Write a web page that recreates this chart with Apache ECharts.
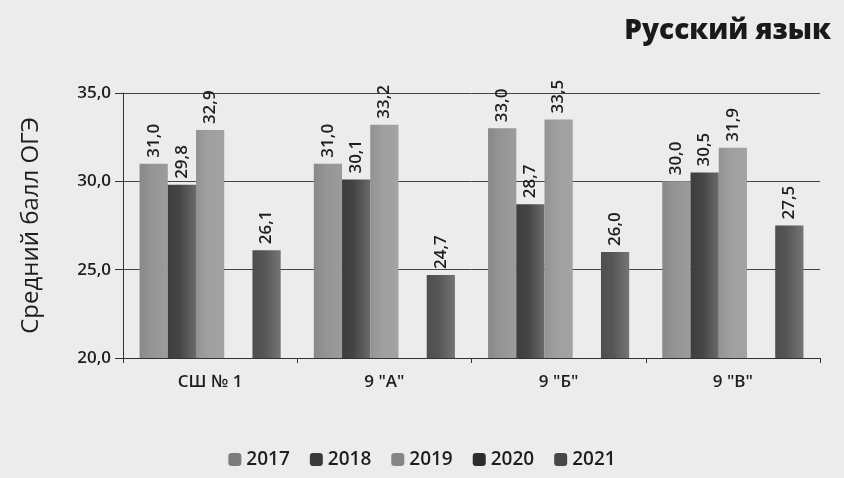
<!DOCTYPE html>
<html><head><meta charset="utf-8">
<script src="https://cdn.jsdelivr.net/npm/echarts@6/dist/echarts.min.js"></script>
<style>html,body{margin:0;padding:0;background:#ececec}#c{width:844px;height:478px}</style>
</head><body><div id="c"></div>
<script>
const categories = ['СШ № 1', '9 "А"', '9 "Б"', '9 "В"'];
const years = ['2017', '2018', '2019', '2020', '2021'];
const s2017 = [31.0, 31.0, 33.0, 30.0];
const s2018 = [29.8, 30.1, 28.7, 30.5];
const s2019 = [32.9, 33.2, 33.5, 31.9];
const s2020 = [null, null, null, null];
const s2021 = [26.1, 24.7, 26.0, 27.5];
const yTicks = [20, 25, 30, 35];

const seriesData = [s2017, s2018, s2019, s2020, s2021];
const baseColors = ['#7c7c7c', '#393939', '#858585', '#2c2c2c', '#474747'];
function grad(c) {
  return new echarts.graphic.LinearGradient(0, 0, 1, 0, [
    {offset: 0, color: echarts.color.lift(c, -0.1)}, {offset: 0.4, color: echarts.color.lift(c, -0.2)}, {offset: 1, color: echarts.color.lift(c, 0.25)}
  ]);
}
const chart = echarts.init(document.getElementById('c'));
chart.setOption({
  backgroundColor: '#ececec',
  animation: false,
  title: {text: 'Русский язык', right: 8, top: 12, textStyle: {fontFamily: 'Open Sans', fontSize: 28, fontWeight: 800, color: '#1a1a1a'}},
  legend: {bottom: 4, left: 'center', itemWidth: 13, itemHeight: 13, itemGap: 20,
    textStyle: {fontFamily: 'Open Sans', fontSize: 19, fontWeight: 600, color: '#1e1e1e'},
    data: years.map((y, i) => ({name: y, itemStyle: {color: baseColors[i]}}))},
  grid: {left: 123, right: 24, top: 93, bottom: 120},
  xAxis: {type: 'category', data: categories,
    axisLine: {lineStyle: {color: '#333'}}, axisTick: {show: true, lineStyle: {color: '#333'}},
    axisLabel: {fontFamily: 'Open Sans', fontSize: 17, fontWeight: 600, color: '#1e1e1e', margin: 16}},
  yAxis: {type: 'value', min: 20, max: 35, interval: 5,
    name: 'Средний балл ОГЭ', nameLocation: 'middle', nameGap: 80, nameRotate: 90,
    nameTextStyle: {fontFamily: 'Open Sans', fontSize: 24, color: '#1e1e1e'},
    axisLine: {show: true, lineStyle: {color: '#333'}}, axisTick: {show: true, length: 8, lineStyle: {color: '#333'}},
    axisLabel: {fontFamily: 'Open Sans', fontSize: 17, fontWeight: 600, color: '#1e1e1e', margin: 12,
      formatter: v => yTicks.includes(v) ? v.toFixed(1).replace('.', ',') : ''},
    splitLine: {lineStyle: {color: '#444', width: 1}}},
  series: seriesData.map((d, i) => ({
    name: years[i], type: 'bar', data: d, barGap: '0%', barCategoryGap: '19%',
    itemStyle: {color: grad(baseColors[i])},
    label: {show: true, position: 'top', rotate: 90, align: 'left', verticalAlign: 'middle', distance: 6,
      fontFamily: 'Open Sans', fontSize: 17, fontWeight: 600, color: '#1e1e1e',
      formatter: p => p.value == null ? '' : p.value.toFixed(1).replace('.', ',')}
  }))
});
</script></body></html>
